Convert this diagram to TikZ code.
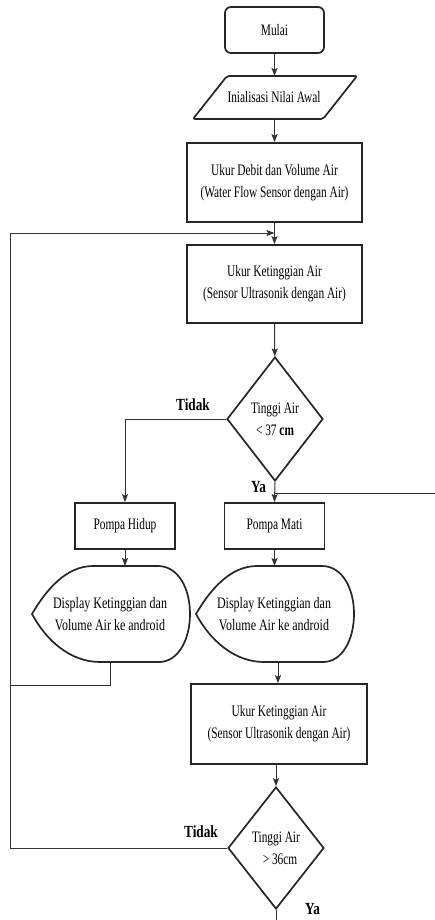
\documentclass[tikz,border=0pt]{standalone}
\usepackage{fontspec}
\setmainfont{Liberation Serif}[FakeStretch=0.71]
\newfontfamily\lblfont{Liberation Serif}[FakeStretch=0.78]
\newfontfamily\dispfont{Liberation Serif}[FakeStretch=0.75]
\usetikzlibrary{shapes.geometric,arrows.meta}
\tikzset{
  shapeline/.style={draw=black!85, line width=1.7pt},
  box/.style={shapeline, align=center, inner sep=0pt},
  conn/.style={draw=black!80, line width=1pt},
  arr/.style={conn, -{Stealth[length=8pt,width=6pt,inset=1.5pt]}},
  lbl/.style={font=\lblfont\bfseries\fontsize{17}{19}\selectfont, inner sep=0pt},
  txt/.style={align=center, inner sep=0pt, font=\fontsize{16}{22}\selectfont},
  disptxt/.style={align=center, inner sep=0pt, font=\dispfont\fontsize{16}{22}\selectfont},
  dispshape/.pic={
    \draw[shapeline] (0,0) .. controls (14,-24) and (34,-48) .. (61,-48)
      -- (126,-48) .. controls (146,-48) and (158,-26) .. (158,0)
      .. controls (158,26) and (146,48) .. (127,48)
      -- (68,48) .. controls (38,48) and (14,26) .. (0,0) -- cycle;
  }
}
\begin{document}
\begin{tikzpicture}[x=1pt,y=-1pt]
\useasboundingbox[fill=white] (0,0) rectangle (435,920);

% shapes
\node[box, txt, rounded corners=6pt, minimum width=99pt, minimum height=46pt] (start) at (274.5,30) {Mulai};

\draw[shapeline, rounded corners=2pt] (193,119) -- (227,76) -- (357,76) -- (323,119) -- cycle;
\node[txt] (init) at (274,97) {Inialisasi Nilai Awal};
\coordinate (initT) at (274.5,76);
\coordinate (initB) at (274.5,119);

\node[box, txt, minimum width=175pt, minimum height=79pt] (debit) at (274.5,182.5) {Ukur Debit dan Volume Air\\(Water Flow Sensor dengan Air)};
\node[box, txt, minimum width=175pt, minimum height=78pt] (ket1) at (274.5,284) {Ukur Ketinggian Air\\(Sensor Ultrasonik dengan Air)};

\node[box, txt, diamond, minimum width=96pt, minimum height=124pt] (d1) at (275,419) {Tinggi Air\\{}< 37 \textbf{cm}};

\node[box, txt, minimum width=100pt, minimum height=46pt] (ph) at (125,526) {Pompa Hidup};
\node[box, txt, minimum width=100pt, minimum height=46pt] (pm) at (274.5,526) {Pompa Mati};

\pic at (32,614) {dispshape};
\pic at (196,614) {dispshape};
\node[disptxt] (dl) at (110,614) {Display Ketinggian dan\\Volume Air ke android};
\node[disptxt] (dr) at (274,614) {Display Ketinggian dan\\Volume Air ke android};
\coordinate (dlTop) at (125,566);
\coordinate (drTop) at (274.5,566);
\coordinate (dlBot) at (110,662);
\coordinate (drBot) at (278,662);

\node[box, txt, minimum width=176pt, minimum height=80pt] (ket2) at (279,724) {Ukur Ketinggian Air\\(Sensor Ultrasonik dengan Air)};

\node[box, txt, diamond, minimum width=96pt, minimum height=122pt] (d2) at (276,848) {Tinggi Air\\\hspace{8pt}> 36cm};

% labels
\node[lbl] (t1) at (193,405) {Tidak};
\node[lbl] (y1) at (258.5,487) {Ya};
\node[lbl] (t2) at (201,832) {Tidak};
\node[lbl] (y2) at (312.5,909) {Ya};

% helper coordinates
\coordinate (lx) at (10,0);
\coordinate (loopIn) at (274.5,233);
\coordinate (dlJoin) at (10,685);
\coordinate (yaE) at (435,493);
\coordinate (botE) at (0,920);

% connectors
\draw[arr] (start) -- (initT);
\draw[arr] (initB) -- (debit);
\draw[arr] (debit) -- (ket1);
\draw[arr] (ket1) -- (d1);
\draw[arr] (d1.west) -| (ph.north);
\draw[arr] (d1.south) -- (pm.north);
\draw[conn] (d1.south |- yaE) -- (yaE);
\draw[arr] (ph.south) -- (dlTop);
\draw[arr] (pm.south) -- (drTop);
\draw[conn] (dlBot) |- (dlJoin);
\draw[arr] (drBot) -- (drBot |- ket2.north);
\draw[arr] (ket2.south -| d2.north) -- (d2.north);
\draw[arr] (d2.west) -- (d2.west -| lx) -- (lx |- loopIn) -- (loopIn);
\draw[conn] (d2.south) -- (d2.south |- botE);
\end{tikzpicture}
\end{document}
